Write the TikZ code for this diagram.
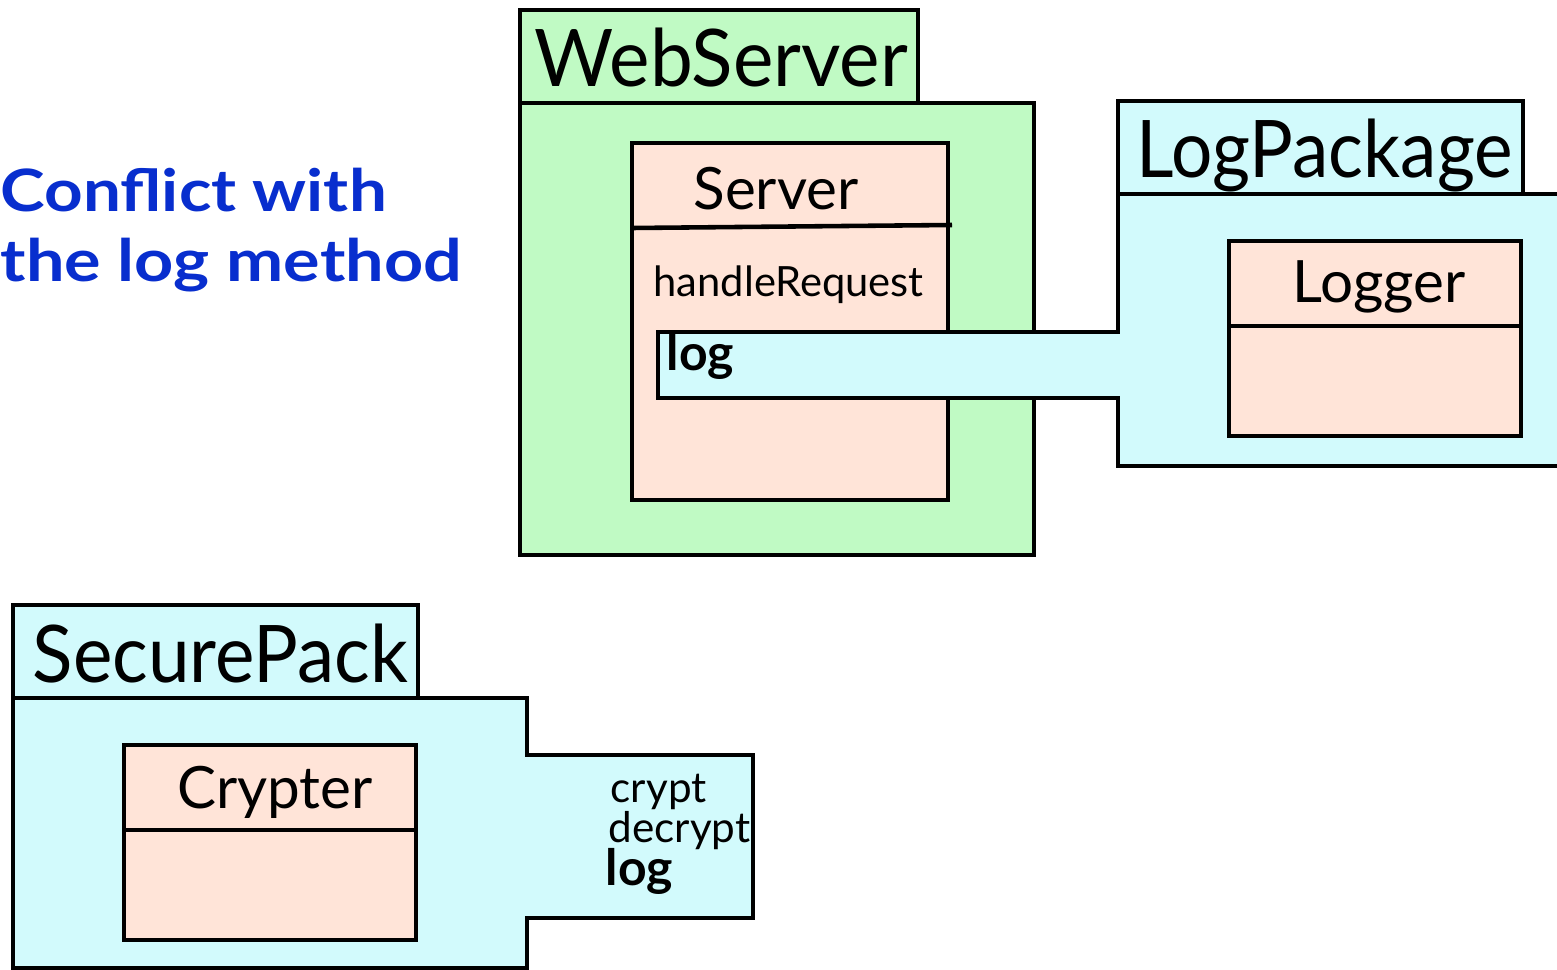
\documentclass[tikz,border=0pt]{standalone}
\usepackage{fontspec}
\setmainfont{Lato}
\usetikzlibrary{fit}

\definecolor{pkggreen}{RGB}{192,250,196}
\definecolor{pkgcyan}{RGB}{210,250,252}
\definecolor{classpeach}{RGB}{255,228,216}
\definecolor{noteblue}{RGB}{8,46,206}

% set a label to a given width while keeping its height
\newcommand{\fitwidth}[2]{\resizebox{#1}{\height}{#2}}

\tikzset{
  outline/.style={draw=black, line width=1.3pt, line join=miter},
  boxfit/.style={outline, inner sep=0pt, outer sep=0pt, rectangle},
  pkgname/.style={font=\fontsize{22.6}{26}\selectfont, anchor=base west, inner sep=0pt},
  clsname/.style={font=\fontsize{16.6}{20}\selectfont, anchor=base, inner sep=0pt},
  member/.style={font=\fontsize{11.85}{13}\selectfont, anchor=base west, inner sep=0pt},
  opname/.style={font=\fontsize{12}{14}\selectfont, anchor=base west, inner sep=0pt},
  conflict/.style={font=\bfseries\fontsize{14.2}{16}\selectfont, anchor=base west, inner sep=0pt},
  note/.style={font=\bfseries\fontsize{16.6}{20}\selectfont, text=noteblue, anchor=base west, inner sep=0pt},
}

\begin{document}
\begin{tikzpicture}[x=0.01cm, y=-0.01cm]
  \clip (0,0) rectangle (1557,970);
  \fill[white] (0,0) rectangle (1557,970);

  % ---------- note ----------
  \node[note] (note1) at (0,212) {\fitwidth{3.86cm}{Conflict with}};
  \node[note] (note2) at (0,282) {\fitwidth{4.61cm}{the log method}};

  % ---------- WebServer package ----------
  \node[boxfit, fill=pkggreen, fit={(520,103) (1034,555)}] (wsbody) {};
  \node[boxfit, fill=pkggreen, fit={(520,10) (918,103)}] (wstab) {};
  \node[pkgname] (wsname) at (534,87) {\fitwidth{3.73cm}{WebServer}};

  % Server class
  \node[boxfit, fill=classpeach, fit={(632,143) (948,500)}] (server) {};
  \coordinate (srvdivL) at (632,228);
  \coordinate (srvdivR) at (952,225);
  \draw[outline] (srvdivL) -- (srvdivR);
  \node[clsname] (servername) at (776,210) {Server};
  \node[member] (handle) at (653,297) {handleRequest};

  % ---------- LogPackage with its exported log operation ----------
  \coordinate (lpA) at (1118,194);
  \coordinate (lpB) at (1118,332);
  \coordinate (lpC) at (658,332);
  \coordinate (lpD) at (658,398);
  \coordinate (lpE) at (1118,398);
  \coordinate (lpF) at (1118,466);
  \coordinate (lpG) at (1600,466);
  \coordinate (lpH) at (1600,194);
  \filldraw[outline, fill=pkgcyan] (lpA) -- (lpB) -- (lpC) -- (lpD) -- (lpE) -- (lpF) -- (lpG) -- (lpH) -- cycle;
  \node[boxfit, fill=pkgcyan, fit={(1118,101) (1523,194)}] (lptab) {};
  \node[pkgname] (lpname) at (1136,178) {\fitwidth{3.76cm}{LogPackage}};
  \node[conflict] (log1) at (666,370) {log};

  % Logger class
  \node[boxfit, fill=classpeach, fit={(1229,241) (1521,436)}] (logger) {};
  \draw[outline] (logger.west |- 0,326) -- (logger.east |- 0,326);
  \node[clsname] (loggername) at (1379,303) {Logger};

  % ---------- SecurePack with its exported operations ----------
  \coordinate (spA) at (13,698);
  \coordinate (spB) at (527,698);
  \coordinate (spC) at (527,755);
  \coordinate (spD) at (753,755);
  \coordinate (spE) at (753,918);
  \coordinate (spF) at (527,918);
  \coordinate (spG) at (527,968);
  \coordinate (spH) at (13,968);
  \filldraw[outline, fill=pkgcyan] (spA) -- (spB) -- (spC) -- (spD) -- (spE) -- (spF) -- (spG) -- (spH) -- cycle;
  \node[boxfit, fill=pkgcyan, fit={(13,605) (418,698)}] (sptab) {};
  \node[pkgname] (spname) at (32,682) {\fitwidth{3.75cm}{SecurePack}};
  \node[opname] (crypt) at (610,802) {crypt};
  \node[opname] (decrypt) at (608,842) {decrypt};
  \node[conflict] (log2) at (605,885) {log};

  % Crypter class
  \node[boxfit, fill=classpeach, fit={(124,745) (416,940)}] (crypter) {};
  \draw[outline] (crypter.west |- 0,830) -- (crypter.east |- 0,830);
  \node[clsname] (cryptername) at (275,808) {Crypter};
\end{tikzpicture}
\end{document}
